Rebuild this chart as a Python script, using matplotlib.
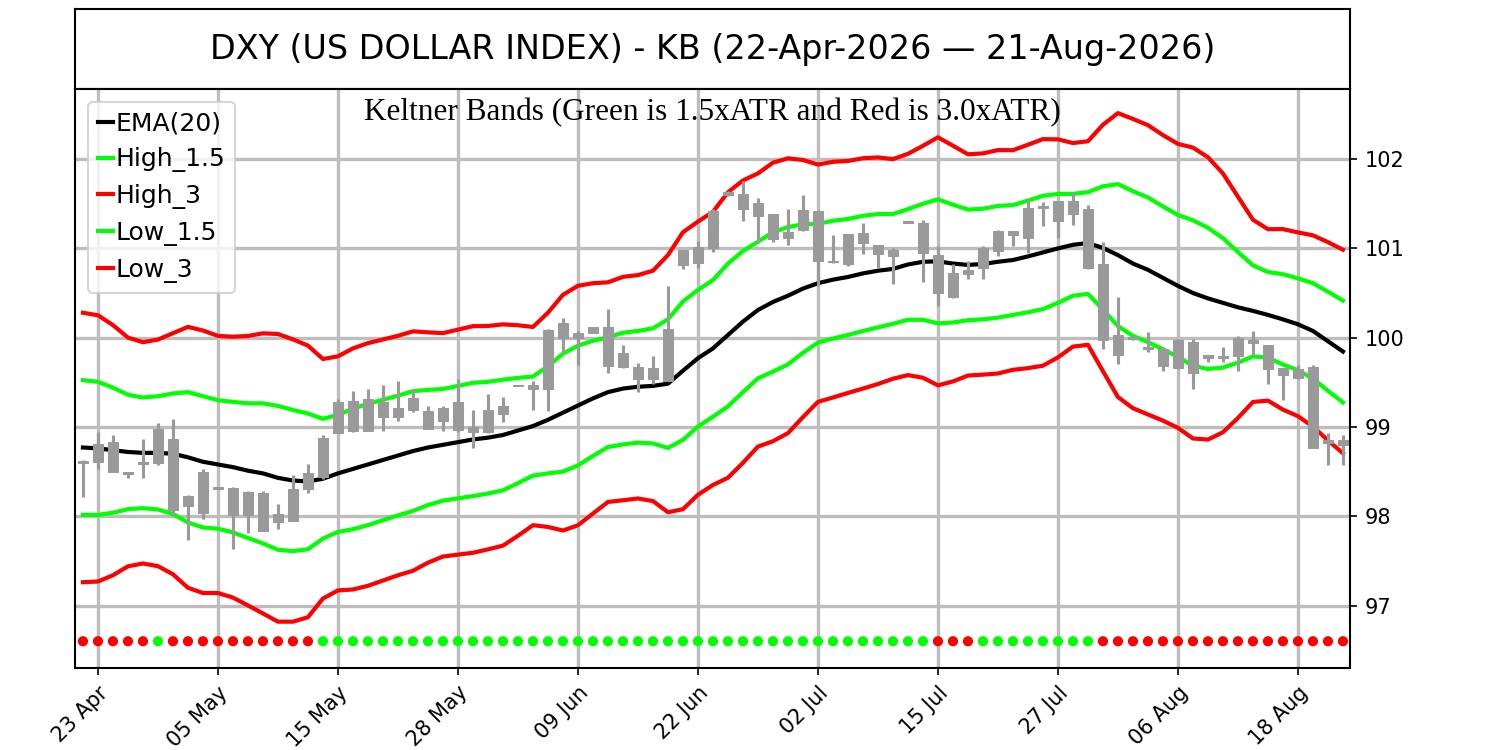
import matplotlib
matplotlib.use("Agg")
import matplotlib.pyplot as plt
import pandas as pd

# ---------------- data ----------------
holidays = ["2026-05-25", "2026-06-19", "2026-07-03"]
dates = [d for d in pd.bdate_range("2026-04-22", "2026-08-21") if d.strftime("%Y-%m-%d") not in holidays]

open_ = [98.60, 98.81, 98.83, 98.47, 98.59, 98.60, 98.86, 98.12, 98.04, 98.33,
         98.32, 98.01, 98.26, 97.94, 97.95, 98.31, 98.44, 98.93, 99.29, 98.96,
         99.28, 99.11, 99.19, 99.18, 99.07, 99.28, 98.94, 98.94, 99.15, 99.46,
         99.47, 99.43, 100.00, 100.05, 100.05, 100.12, 99.67, 99.67, 99.54, 99.51,
         100.81, 100.84, 101.01, 101.60, 101.61, 101.51, 101.38, 101.12, 101.21, 101.42,
         100.85, 100.83, 101.17, 101.04, 100.91, 101.28, 101.29, 100.93, 100.46, 100.71,
         100.78, 100.97, 101.15, 101.12, 101.45, 101.31, 101.53, 101.44, 100.83, 100.03,
         100.01, 99.90, 99.87, 99.66, 99.95, 99.77, 99.80, 99.79, 99.97, 99.92,
         99.66, 99.55, 99.67, 98.82, 98.80]
high = [98.63, 98.94, 98.91, 98.50, 98.87, 99.04, 99.09, 98.24, 98.53, 98.33,
        98.33, 98.28, 98.28, 98.14, 98.46, 98.59, 98.91, 99.31, 99.40, 99.43,
        99.47, 99.51, 99.42, 99.24, 99.24, 99.54, 99.19, 99.37, 99.33, 99.47,
        99.51, 100.10, 100.22, 100.07, 100.12, 100.32, 99.92, 99.72, 99.79, 100.58,
        100.98, 101.08, 101.44, 101.64, 101.76, 101.57, 101.39, 101.44, 101.60, 101.43,
        101.15, 101.16, 101.28, 101.04, 101.00, 101.31, 101.32, 101.03, 100.83, 100.86,
        101.03, 101.21, 101.19, 101.55, 101.52, 101.53, 101.63, 101.49, 101.07, 100.46,
        100.02, 100.06, 99.90, 99.98, 99.99, 99.81, 99.90, 100.02, 100.07, 99.92,
        99.66, 99.69, 99.69, 98.93, 98.91]
low = [98.21, 98.53, 98.49, 98.43, 98.43, 98.57, 98.01, 97.73, 97.97, 98.30,
       97.63, 97.81, 97.83, 97.86, 97.95, 98.26, 98.42, 98.93, 98.94, 98.96,
       98.96, 99.07, 99.17, 98.98, 98.96, 98.94, 98.76, 98.93, 99.06, 99.46,
       99.19, 99.18, 99.83, 99.69, 100.05, 99.60, 99.66, 99.39, 99.48, 99.51,
       100.77, 100.78, 100.96, 101.59, 101.31, 101.06, 101.07, 101.04, 101.19, 100.58,
       100.84, 100.80, 100.94, 100.78, 100.60, 101.28, 100.62, 100.35, 100.45, 100.66,
       100.66, 100.91, 101.03, 100.95, 101.25, 101.12, 101.26, 100.77, 99.87, 99.71,
       99.97, 99.84, 99.63, 99.65, 99.42, 99.73, 99.73, 99.63, 99.81, 99.48,
       99.30, 99.54, 98.76, 98.57, 98.57]
close = [98.62, 98.61, 98.49, 98.50, 98.61, 98.98, 98.07, 98.23, 98.49, 98.30,
         98.01, 98.27, 97.83, 98.03, 98.30, 98.48, 98.88, 99.28, 98.95, 99.31,
         99.11, 99.21, 99.32, 98.98, 99.21, 98.97, 99.00, 99.19, 99.23, 99.47,
         99.43, 100.09, 100.16, 100.00, 100.12, 99.68, 99.83, 99.54, 99.66, 100.10,
         100.98, 101.02, 101.42, 101.63, 101.44, 101.36, 101.11, 101.18, 101.43, 100.86,
         100.86, 101.16, 101.06, 100.94, 100.98, 101.31, 100.95, 100.50, 100.73, 100.76,
         101.00, 101.19, 101.19, 101.45, 101.48, 101.53, 101.38, 100.78, 99.97, 99.81,
         99.98, 99.87, 99.68, 99.97, 99.60, 99.81, 99.77, 100.00, 99.94, 99.65,
         99.58, 99.65, 98.76, 98.85, 98.85]

ema20 = [98.77, 98.76, 98.74, 98.72, 98.71, 98.71, 98.70, 98.66, 98.61, 98.58,
         98.55, 98.51, 98.48, 98.43, 98.40, 98.39, 98.42, 98.48, 98.53, 98.58,
         98.63, 98.68, 98.73, 98.77, 98.80, 98.83, 98.86, 98.88, 98.91, 98.96,
         99.01, 99.08, 99.16, 99.24, 99.32, 99.39, 99.43, 99.45, 99.46, 99.485,
         99.63, 99.77, 99.88, 100.03, 100.18, 100.31, 100.40, 100.47, 100.55, 100.61,
         100.65, 100.68, 100.72, 100.75, 100.77, 100.82, 100.85, 100.855, 100.83, 100.815,
         100.825, 100.85, 100.87, 100.91, 100.955, 101.00, 101.04, 101.06, 101.005, 100.925,
         100.83, 100.76, 100.67, 100.58, 100.50, 100.44, 100.39, 100.34, 100.30, 100.255,
         100.205, 100.15, 100.075, 99.96, 99.845]
atr = [0.503, 0.497, 0.467, 0.427, 0.413, 0.423, 0.450, 0.487, 0.490, 0.480,
       0.487, 0.503, 0.523, 0.537, 0.527, 0.507, 0.447, 0.437, 0.450, 0.453,
       0.450, 0.447, 0.447, 0.430, 0.417, 0.420, 0.423, 0.417, 0.413, 0.393,
       0.370, 0.400, 0.440, 0.447, 0.430, 0.410, 0.417, 0.417, 0.430, 0.480,
       0.517, 0.510, 0.510, 0.533, 0.527, 0.510, 0.520, 0.513, 0.480, 0.443,
       0.440, 0.433, 0.430, 0.423, 0.410, 0.413, 0.433, 0.463, 0.440, 0.413,
       0.413, 0.417, 0.410, 0.417, 0.423, 0.407, 0.380, 0.380, 0.460, 0.530,
       0.540, 0.540, 0.533, 0.530, 0.543, 0.527, 0.483, 0.413, 0.340, 0.320,
       0.337, 0.343, 0.357, 0.370, 0.380]
signal = ("RRRRRGRRRRRRRRRR"
          "GGGGGGGGGGGGGGGGGGGGGGGGGGGGGGGGGGGGGGGGG"
          "RRRGGGGGGGG"
          "RRRRRRRRRRRRRRRRR")

tick_idx = [1, 9, 17, 25, 33, 41, 49, 57, 65, 73, 81]
title = "DXY (US DOLLAR INDEX) - KB (22-Apr-2026 \u2014 21-Aug-2026)"
subtitle = "Keltner Bands (Green is 1.5xATR and Red is 3.0xATR)"

# ---------------- derived series ----------------
n = len(close)
x = list(range(n))
high_15 = [e + 1.5 * a for e, a in zip(ema20, atr)]
high_3 = [e + 3.0 * a for e, a in zip(ema20, atr)]
low_15 = [e - 1.5 * a for e, a in zip(ema20, atr)]
low_3 = [e - 3.0 * a for e, a in zip(ema20, atr)]

# ---------------- figure ----------------
fig = plt.figure(figsize=(10, 5), dpi=150)
tax = fig.add_axes([0.05, 0.8813, 0.85, 0.1067])
tax.set_xticks([]); tax.set_yticks([])
tax.text(0.5, 0.5, title, ha="center", va="center", fontsize=16, transform=tax.transAxes)
for s in tax.spines.values():
    s.set_linewidth(1.0)

ax = fig.add_axes([0.05, 0.1093, 0.85, 0.772])
grid_c = "#bdbdbd"
ax.grid(True, color=grid_c, linewidth=1.6, zorder=0)
ax.set_axisbelow(True)

ax.plot(x, ema20, color="black", lw=2, label="EMA(20)", zorder=2)
ax.plot(x, high_15, color="#00ff00", lw=2, label="High_1.5", zorder=2)
ax.plot(x, high_3, color="#ff0000", lw=2, label="High_3", zorder=2)
ax.plot(x, low_15, color="#00ff00", lw=2, label="Low_1.5", zorder=2)
ax.plot(x, low_3, color="#ff0000", lw=2, label="Low_3", zorder=2)

candle_c = "#9a9a9a"
bw = 0.67
for i in range(n):
    ax.vlines(i, low[i], high[i], color=candle_c, lw=1.5, zorder=3)
    b0 = min(open_[i], close[i]); b1 = max(open_[i], close[i])
    h = max(b1 - b0, 0.012)
    ax.bar(i, h, bottom=b0, width=bw, color=candle_c, edgecolor=candle_c, lw=0.5, zorder=3)

dot_y = 96.6
dot_cols = ["#ff0000" if s == "R" else "#00ff00" for s in signal]
ax.scatter(x, [dot_y] * n, c=dot_cols, s=24, zorder=4, linewidths=0)

ax.set_xlim(-0.53, 84.47)
ax.set_ylim(96.30, 102.785)
ax.set_yticks([97, 98, 99, 100, 101, 102])
ax.yaxis.tick_right()
ax.tick_params(axis="y", labelsize=10)
ax.set_xticks(tick_idx)
ax.set_xticklabels([dates[i].strftime("%d %b") for i in tick_idx], rotation=45, ha="right",
                   rotation_mode="anchor", fontsize=10)
for s in ax.spines.values():
    s.set_linewidth(1.0)

ax.text(0.5, 0.985, subtitle, transform=ax.transAxes, ha="center", va="top",
        fontsize=15, family=["Liberation Serif", "DejaVu Serif"], zorder=5)

ax.legend(loc="upper left", fontsize=12, handlelength=0.6, handletextpad=0.1,
          labelspacing=0.47, borderaxespad=0.5)

fig.savefig("out.png", dpi=150)
